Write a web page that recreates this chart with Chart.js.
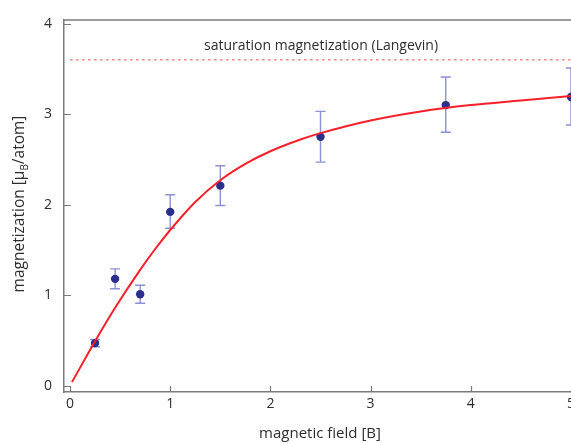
<!DOCTYPE html>
<html>
<head>
<meta charset="utf-8">
<script src="https://cdn.jsdelivr.net/npm/chart.js@4.4.0/dist/chart.umd.min.js"></script>
<style>
html,body{margin:0;padding:0;background:#fff;}
#wrap{width:571px;height:443px;position:relative;}
</style>
</head>
<body>
<div id="wrap"><canvas id="c" width="571" height="443"></canvas></div>
<script>
// ---- data ----
const fieldB = [0.25, 0.45, 0.7, 1.0, 1.5, 2.5, 3.75, 5.0];
const magnetization = [0.47, 1.18, 1.01, 1.92, 2.21, 2.75, 3.10, 3.19];
const errLow = [0.43, 1.07, 0.91, 1.74, 1.99, 2.47, 2.80, 2.88];
const errHigh = [0.51, 1.29, 1.11, 2.11, 2.43, 3.03, 3.41, 3.51];
const fitB = [0.02, 0.25, 0.45, 0.7, 0.85, 1.0, 1.25, 1.5, 1.75, 2.0, 2.3, 2.5, 3.0, 3.5, 4.0, 4.5, 5.0];
const fitM = [0.04, 0.49, 0.86, 1.28, 1.51, 1.72, 2.03, 2.27, 2.45, 2.59, 2.72, 2.79, 2.93, 3.03, 3.10, 3.15, 3.20];
const satB = [0.0, 5.0];
const satM = [3.6, 3.6];
const xTicks = [0, 1, 2, 3, 4, 5];
const yTicks = [0, 1, 2, 3, 4];
const satLabel = 'saturation magnetization (Langevin)';
const xTitle = 'magnetic field [B]';
const yTitleParts = ['magnetization [μ', 'B', '/atom]'];

const FONT = '"Open Sans", "Noto Sans", sans-serif';
const AXIS = '#7a7a7a';
const TEXT = '#2e2e2e';

const toXY = (xs, ys) => xs.map((x, i) => ({x: x, y: ys[i]}));

const decor = {
  id: 'decor',
  beforeDatasetsDraw(chart) {
    const ctx = chart.ctx, xs = chart.scales.x, ys = chart.scales.y;
    ctx.save();
    ctx.strokeStyle = '#8c90d6';
    ctx.lineWidth = 1.4;
    fieldB.forEach((b, i) => {
      const px = xs.getPixelForValue(b);
      const lo = ys.getPixelForValue(errLow[i]);
      const hi = ys.getPixelForValue(errHigh[i]);
      ctx.beginPath();
      ctx.moveTo(px, lo); ctx.lineTo(px, hi);
      ctx.moveTo(px - 5, lo); ctx.lineTo(px + 5, lo);
      ctx.moveTo(px - 5, hi); ctx.lineTo(px + 5, hi);
      ctx.stroke();
    });
    ctx.restore();
  },
  afterDraw(chart) {
    const ctx = chart.ctx, xs = chart.scales.x, ys = chart.scales.y, a = chart.chartArea;
    ctx.save();
    // top border
    ctx.strokeStyle = AXIS;
    ctx.lineWidth = 1.5;
    ctx.beginPath();
    ctx.moveTo(a.left, a.top); ctx.lineTo(a.right, a.top);
    ctx.stroke();
    // inward ticks
    ctx.lineWidth = 1.2;
    ctx.beginPath();
    xTicks.forEach(t => {
      const px = Math.round(xs.getPixelForValue(t)) + 0.5;
      ctx.moveTo(px, a.bottom); ctx.lineTo(px, a.bottom - 6);
    });
    yTicks.forEach(t => {
      const py = Math.round(ys.getPixelForValue(t)) + 0.5;
      ctx.moveTo(a.left, py); ctx.lineTo(a.left + 7, py);
    });
    ctx.stroke();
    // saturation label
    ctx.fillStyle = TEXT;
    ctx.font = '14px ' + FONT;
    ctx.textAlign = 'center';
    ctx.textBaseline = 'middle';
    ctx.fillText(satLabel, 321, 46);
    // x title
    ctx.font = '15px ' + FONT;
    ctx.fillText(xTitle, 320, 434);
    // y title with subscript
    ctx.translate(20, 204);
    ctx.rotate(-Math.PI / 2);
    const big = '15.5px ' + FONT, small = '10px ' + FONT;
    ctx.font = big; const w0 = ctx.measureText(yTitleParts[0]).width;
    ctx.font = small; const w1 = ctx.measureText(yTitleParts[1]).width;
    ctx.font = big; const w2 = ctx.measureText(yTitleParts[2]).width;
    let x0 = -(w0 + w1 + w2) / 2;
    ctx.textAlign = 'left';
    ctx.font = big; ctx.fillText(yTitleParts[0], x0, 0);
    ctx.font = small; ctx.fillText(yTitleParts[1], x0 + w0, 5);
    ctx.font = big; ctx.fillText(yTitleParts[2], x0 + w0 + w1, 0);
    ctx.restore();
  }
};

new Chart(document.getElementById('c'), {
  type: 'scatter',
  data: {
    datasets: [
      {
        label: 'saturation',
        type: 'line',
        data: toXY(satB, satM),
        borderColor: 'rgba(245,110,110,0.8)',
        borderWidth: 1.5,
        borderDash: [2.5, 3.5],
        pointRadius: 0,
        fill: false,
        order: 3
      },
      {
        label: 'fit',
        type: 'line',
        data: toXY(fitB, fitM),
        borderColor: '#f5202a',
        borderWidth: 2,
        pointRadius: 0,
        cubicInterpolationMode: 'monotone',
        fill: false,
        order: 1
      },
      {
        label: 'data',
        data: toXY(fieldB, magnetization),
        backgroundColor: '#2b2e8c',
        borderColor: '#2b2e8c',
        pointRadius: 4.2,
        pointBorderWidth: 0,
        order: 2
      }
    ]
  },
  options: {
    responsive: false,
    animation: false,
    layout: {autoPadding: false, padding: {top: 20, right: 0, left: 0, bottom: 0}},
    plugins: {legend: {display: false}, tooltip: {enabled: false}},
    scales: {
      x: {
        type: 'linear',
        min: -0.06, max: 5.0,
        afterBuildTicks: s => { s.ticks = xTicks.map(v => ({value: v})); },
        afterFit: s => { s.height = 51; s.paddingLeft = 0; s.paddingRight = 0; },
        grid: {display: false, drawTicks: false},
        border: {display: true, color: AXIS, width: 1.5},
        ticks: {color: TEXT, font: {family: FONT, size: 14}, padding: 4, maxRotation: 0, autoSkip: false}
      },
      y: {
        type: 'linear',
        min: -0.07, max: 4.04,
        afterBuildTicks: s => { s.ticks = yTicks.map(v => ({value: v})); },
        afterFit: s => { s.width = 64; s.paddingTop = 0; s.paddingBottom = 0; },
        grid: {display: false, drawTicks: false},
        border: {display: true, color: AXIS, width: 1.5},
        ticks: {color: TEXT, font: {family: FONT, size: 14}, padding: 12, autoSkip: false}
      }
    }
  },
  plugins: [decor]
});
</script>
</body>
</html>
